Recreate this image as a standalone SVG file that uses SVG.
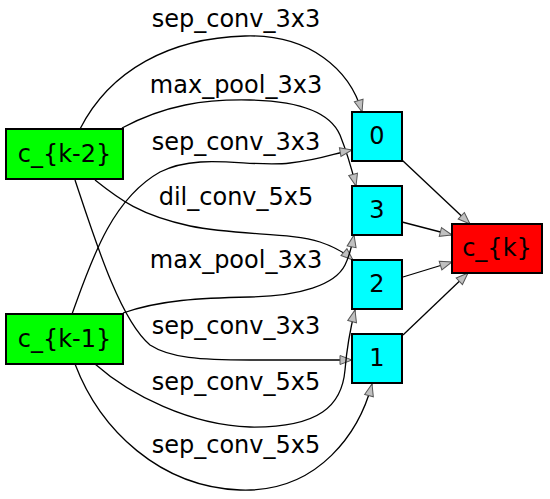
<svg xmlns="http://www.w3.org/2000/svg" width="550" height="499" viewBox="0 0 550 499">
<defs>
<style>
.n rect{stroke:#000;stroke-width:2}
.in rect{fill:#00ff00}
.mid rect{fill:#00ffff}
.out rect{fill:#ff0000}
text{font-family:"DejaVu Sans","Verdana",sans-serif;font-size:24px;fill:#000;text-anchor:middle}
.e path{fill:none;stroke:#000;stroke-width:1.3;marker-end:url(#ah)}
</style>
<marker id="ah" markerUnits="userSpaceOnUse" markerWidth="14" markerHeight="11" refX="12" refY="4.5" orient="auto" overflow="visible">
<path d="M0,0 L12,4.5 L0,9 Z" fill="#c0c0c0" stroke="#555" stroke-width="1"/>
</marker>
</defs>
<rect width="550" height="499" fill="#fff"/>
<g id="edges" class="e">
<path d="M80,129 C110,70 170,38 245,36 C310,34 350,70 362,112"/>
<path d="M122,128 C165,105 205,99 250,100 C300,101 330,112 340,135 C346,150 352,170 356,186"/>
<path d="M72,314 C90,265 110,200 160,172 C200,152 250,168 290,163 C320,160 335,153 352,150"/>
<path d="M95,180 C120,200 140,215 190,226 C240,236 290,232 320,242 C335,247 345,253 353,260"/>
<path d="M123,313 C160,300 200,298 250,297 C300,296 335,285 345,265 C350,255 352,245 354,235"/>
<path d="M75,180 C95,240 120,320 150,345 C170,358 200,360 250,360 L352,360"/>
<path d="M95,364 C130,395 190,425 250,427 C320,428 342,405 345,370 C347,345 350,330 355,310"/>
<path d="M75,364 C100,430 160,487 240,490 C320,493 360,430 372,384"/>
<path d="M402,160 L470,224"/>
<path d="M402,222 L452,235"/>
<path d="M403,277 L452,262"/>
<path d="M403,335 L468,273"/>
</g>
<g id="edge-labels">
<text x="236" y="27">sep_conv_3x3</text>
<text x="236" y="93">max_pool_3x3</text>
<text x="236" y="150">sep_conv_3x3</text>
<text x="236" y="205">dil_conv_5x5</text>
<text x="236" y="268">max_pool_3x3</text>
<text x="236" y="334">sep_conv_3x3</text>
<text x="236" y="390">sep_conv_5x5</text>
<text x="236" y="453">sep_conv_5x5</text>
</g>
<g id="c_k-2" class="n in"><rect x="6" y="129" width="117" height="50"/><text x="64.5" y="162">c_{k-2}</text></g>
<g id="c_k-1" class="n in"><rect x="6" y="314" width="117" height="50"/><text x="64.5" y="347">c_{k-1}</text></g>
<g id="n0" class="n mid"><rect x="352" y="112" width="50" height="49"/><text x="377" y="144">0</text></g>
<g id="n3" class="n mid"><rect x="352" y="186" width="50" height="49"/><text x="377" y="218">3</text></g>
<g id="n2" class="n mid"><rect x="352" y="260" width="50" height="49"/><text x="377" y="292">2</text></g>
<g id="n1" class="n mid"><rect x="352" y="334" width="50" height="49"/><text x="377" y="366">1</text></g>
<g id="c_k" class="n out"><rect x="452" y="224" width="90" height="49"/><text x="497" y="256">c_{k}</text></g>
</svg>
